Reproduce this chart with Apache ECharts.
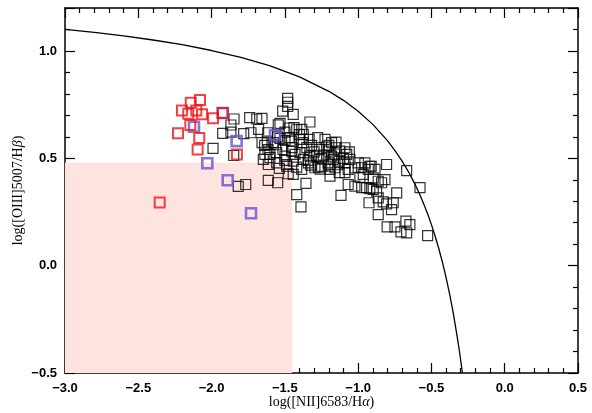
<!DOCTYPE html>
<html>
<head>
<meta charset="utf-8">
<script src="https://cdn.jsdelivr.net/npm/echarts@6/dist/echarts.min.js"></script>
<style>html,body{margin:0;padding:0;background:#fff;}#c{width:592px;height:413px;}</style>
</head>
<body>
<div id="c"></div>
<script>
// Axis ranges and ticks
const xRange = [-3.0, 0.5];
const yRange = [-0.5, 1.2];
const majorStep = 0.5;

// Shaded region (x from, x to; y from, y to)
const shadeX = [-3.0, -1.45];
const shadeY = [-0.5, 0.48];

// Demarcation curve
const curveX = [-3.0,-2.8,-2.6,-2.4,-2.2,-2.0,-1.8,-1.6,-1.4,-1.2,-1.1,-1.0,-0.9,-0.8,-0.75,-0.7,-0.65,-0.625,-0.6,-0.575,-0.55,-0.525,-0.5,-0.475,-0.45,-0.425,-0.4,-0.375,-0.35,-0.32,-0.31,-0.3,-0.295,-0.289];
const curveY = [1.100,1.086,1.070,1.051,1.029,1.002,0.970,0.930,0.879,0.812,0.770,0.719,0.658,0.582,0.537,0.487,0.429,0.396,0.362,0.324,0.283,0.239,0.191,0.138,0.080,0.016,-0.056,-0.135,-0.225,-0.349,-0.394,-0.443,-0.468,-0.499];

// Red squares
const redX = [-2.202,-2.142,-2.079,-2.159,-2.104,-2.065,-1.990,-1.924,-2.145,-2.229,-2.084,-2.095,-1.827,-2.354];
const redY = [0.723,0.759,0.771,0.708,0.723,0.705,0.687,0.711,0.655,0.617,0.594,0.541,0.518,0.294];

// Blue squares
const blueX = [-1.924,-2.120,-1.829,-2.029,-1.890,-1.731,-1.567];
const blueY = [0.711,0.647,0.580,0.477,0.398,0.244,0.608];

// Black squares
const blackX = [-1.990,-1.924,-1.868,-1.868,-1.847,-1.849,-1.781,-1.731,-1.740,-1.818,-1.767,
-1.481,-1.481,-1.481,-1.515,-1.443,-1.692,-1.656,-1.329,-1.545,-1.470,-1.679,-1.617,-1.499,-1.438,-1.419,-1.374,-1.533,-1.656,-1.638,-1.579,-1.563,-1.499,-1.472,-1.454,-1.397,-1.374,-1.334,-1.317,-1.276,-1.226,-1.181,-1.151,-1.533,-1.385,
-1.615,-1.602,-1.556,-1.513,-1.499,-1.454,-1.431,-1.397,-1.374,-1.329,-1.647,-1.613,-1.556,-1.488,-1.443,-1.340,-1.636,-1.602,-1.283,-1.265,-1.204,-1.181,-1.170,-1.204,-1.090,-1.238,-1.215,-1.151,-1.124,-1.090,-1.078,-1.129,-1.192,
-1.538,-1.488,-1.477,-1.443,-1.419,-1.385,-1.324,-1.272,-1.249,-1.192,-1.158,-1.129,-1.090,-1.068,-1.192,-1.613,-1.549,-1.356,-1.419,-1.117,-1.068,-1.390,-1.295,
-1.022,-0.976,-0.931,-0.885,-0.806,-0.669,-1.022,-0.976,-0.942,-0.920,-0.897,-0.874,-0.965,-0.897,-0.863,-0.817,-0.737,-0.578,-0.863,-0.829,-0.806,-0.761,-0.926,-0.772,-0.863,-0.674,-0.647,-0.802,-0.749,-0.708,-0.669,-0.526,-0.954,-0.920,-0.840,-0.988,-1.056,-0.999,-0.911,
-1.25,-1.16,-1.10,-1.14,-1.06,-1.20,-1.30,-1.35,-1.45,-1.55,-1.40,-1.34,-1.26,-1.62,-1.50];
const blackY = [0.546,0.616,0.655,0.622,0.683,0.513,0.615,0.619,0.689,0.369,0.378,
0.779,0.761,0.742,0.720,0.705,0.683,0.686,0.669,0.656,0.641,0.635,0.619,0.622,0.643,0.633,0.611,0.593,0.573,0.560,0.573,0.563,0.583,0.596,0.580,0.588,0.573,0.588,0.560,0.596,0.588,0.573,0.575,0.663,0.635,
0.541,0.518,0.526,0.541,0.510,0.533,0.518,0.526,0.495,0.510,0.495,0.471,0.479,0.471,0.487,0.479,0.518,0.503,0.510,0.540,0.533,0.510,0.495,0.479,0.479,0.515,0.552,0.549,0.533,0.549,0.518,0.487,0.471,
0.453,0.463,0.428,0.425,0.459,0.448,0.468,0.459,0.463,0.448,0.456,0.433,0.433,0.448,0.417,0.397,0.386,0.383,0.331,0.327,0.378,0.274,0.456,
0.456,0.456,0.448,0.448,0.471,0.443,0.370,0.363,0.363,0.359,0.355,0.347,0.425,0.409,0.393,0.401,0.339,0.363,0.316,0.297,0.288,0.293,0.293,0.261,0.238,0.207,0.191,0.181,0.181,0.157,0.153,0.140,0.479,0.463,0.386,0.411,0.495,0.479,0.463,
0.50,0.52,0.50,0.47,0.53,0.56,0.53,0.55,0.55,0.60,0.61,0.49,0.45,0.58,0.49];

const zip = (a, b) => a.map((v, i) => [v, b[i]]);
const fmt = v => {
  const r = Math.round(v * 10) / 10;
  if (Math.abs(r / majorStep - Math.round(r / majorStep)) > 1e-6 || Math.abs(v - r) > 1e-6) return '';
  return r.toFixed(1).replace('-', '\u2212');
};
const tickCommon = {
  axisLine: {show: true, onZero: false, lineStyle: {color: '#000', width: 1.5}},
  axisTick: {show: true, inside: true, length: 10, lineStyle: {color: '#000', width: 1.2}},
  minorTick: {show: true, splitNumber: 5, length: 5, lineStyle: {color: '#000', width: 1.2}},
  splitLine: {show: false},
  minorSplitLine: {show: false}
};
const labelFont = {color: '#000', fontFamily: 'Liberation Sans', fontSize: 13, fontWeight: 'bold', formatter: fmt};

const chart = echarts.init(document.getElementById('c'), null, {renderer: 'canvas'});
chart.setOption({
  animation: false,
  backgroundColor: '#fff',
  grid: {left: 65, right: 14, top: 8, bottom: 40, containLabel: false, outerBoundsMode: 'none'},
  xAxis: [
    Object.assign({type: 'value', min: xRange[0], max: xRange[1], interval: majorStep, position: 'bottom',
      name: 'log([NII]6583/H{g|α})', nameLocation: 'middle', nameGap: 22, nameMoveOverlap: false,
      nameTextStyle: {fontFamily: 'Liberation Serif', fontSize: 14, color: '#000', rich: {g: {fontFamily: 'Liberation Serif', fontStyle: 'italic', fontSize: 14}}},
      axisLabel: Object.assign({margin: 9}, labelFont)}, tickCommon),
    Object.assign({type: 'value', min: xRange[0], max: xRange[1], interval: majorStep, position: 'top',
      axisLabel: {show: false}}, tickCommon)
  ],
  yAxis: [
    Object.assign({type: 'value', min: yRange[0], max: yRange[1], interval: majorStep, position: 'left',
      name: 'log([OIII]5007/H{g|β})', nameLocation: 'middle', nameGap: 40, nameRotate: 90, nameMoveOverlap: false,
      nameTextStyle: {fontFamily: 'Liberation Serif', fontSize: 14, color: '#000', rich: {g: {fontFamily: 'Liberation Serif', fontStyle: 'italic', fontSize: 14}}},
      axisLabel: Object.assign({margin: 8}, labelFont)}, tickCommon),
    Object.assign({type: 'value', min: yRange[0], max: yRange[1], interval: majorStep, position: 'right',
      axisLabel: {show: false}}, tickCommon)
  ],
  series: [
    {type: 'line', data: [], z: 1, silent: true,
      markArea: {silent: true, itemStyle: {color: '#ffe3e0'},
        data: [[{coord: [shadeX[0], shadeY[0]]}, {coord: [shadeX[1], shadeY[1]]}]]}},
    {type: 'line', data: zip(curveX, curveY), z: 2, showSymbol: false, symbol: 'none', silent: true,
      lineStyle: {color: '#000', width: 1.3}},
    {type: 'scatter', data: zip(blackX, blackY), z: 3, symbol: 'rect', symbolSize: 10, silent: true,
      itemStyle: {color: 'rgba(0,0,0,0)', borderColor: '#000', borderWidth: 1.2}},
    {type: 'scatter', data: zip(blueX, blueY), z: 4, symbol: 'rect', symbolSize: 10, silent: true,
      itemStyle: {color: 'rgba(0,0,0,0)', borderColor: '#6655cc', borderWidth: 2.6}},
    {type: 'scatter', data: zip(redX, redY), z: 5, symbol: 'rect', symbolSize: 10, silent: true,
      itemStyle: {color: 'rgba(0,0,0,0)', borderColor: '#ee1111', borderWidth: 2}}
  ]
});
</script>
</body>
</html>
